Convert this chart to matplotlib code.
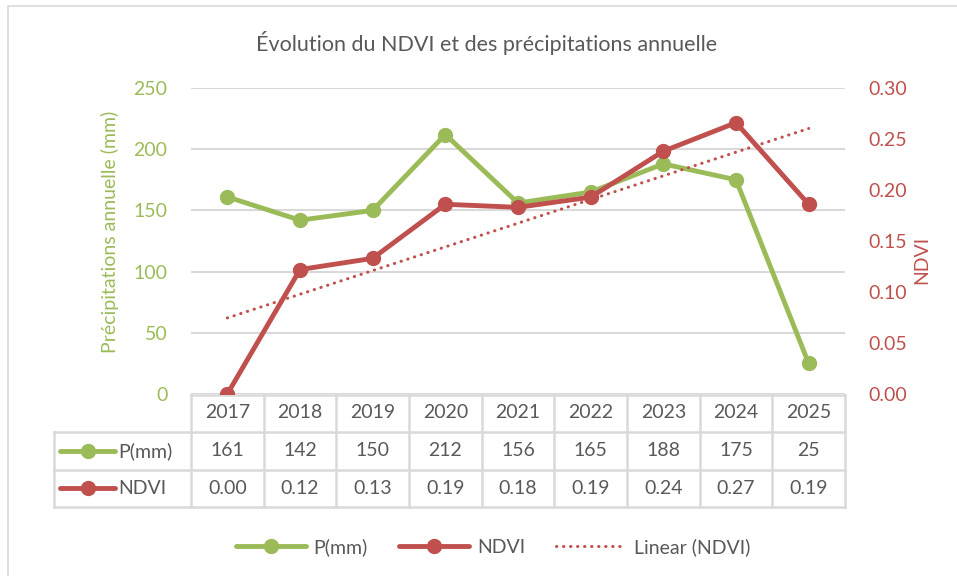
import numpy as np
import matplotlib
matplotlib.use("Agg")
import matplotlib.pyplot as plt
from matplotlib import transforms
from matplotlib.lines import Line2D
from matplotlib.patches import Rectangle

plt.rcParams['font.family'] = ['Lato', 'DejaVu Sans']

years = ['2017', '2018', '2019', '2020', '2021', '2022', '2023', '2024', '2025']
precip = [161, 142, 150, 212, 156, 165, 188, 175, 25]
ndvi = [0.0, 0.122, 0.133, 0.186, 0.183, 0.193, 0.238, 0.266, 0.186]
ndvi_labels = ['0.00', '0.12', '0.13', '0.19', '0.18', '0.19', '0.24', '0.27', '0.19']

GREEN = '#9BBB59'
RED = '#C0504D'
TXT = '#595959'
GRID = '#D9D9D9'
FS = 14
DOTS = (0, (0.1, 2.2))

fig = plt.figure(figsize=(9.57, 5.76), dpi=100)
W, H = 957, 576

# chart border
fig.patches.append(Rectangle((8 / W, -0.1), 1.2, 1 - 6 / H + 0.1, transform=fig.transFigure,
                             fill=False, edgecolor=GRID, lw=1.2))

left, right, top, bottom = 191, 845, 88, 394
ax = fig.add_axes([left / W, 1 - bottom / H, (right - left) / W, (bottom - top) / H])
ax2 = ax.twinx()

x = np.arange(len(years))

# trend line (least squares fit of NDVI)
coef = np.polyfit(x, ndvi, 1)
trend = np.polyval(coef, x)

ax.plot(x, precip, color=GREEN, lw=3.5, marker='o', ms=10, solid_capstyle='round', zorder=3)
ax2.plot(x, ndvi, color=RED, lw=3.5, marker='o', ms=10, solid_capstyle='round', zorder=3)
ax2.plot(x, trend, color=RED, lw=2.2, ls=DOTS, dash_capstyle='round', zorder=2)

ax.set_xlim(-0.5, len(years) - 0.5)
ax.set_ylim(0, 250)
ax.set_yticks(range(0, 251, 50))
ax2.set_ylim(0, 0.30)
ax2.set_yticks(np.arange(0, 0.301, 0.05))
ax2.set_yticklabels(['%.2f' % v for v in np.arange(0, 0.301, 0.05)])

ax.yaxis.grid(True, color=GRID, lw=1.5)
ax.set_axisbelow(True)
for a in (ax, ax2):
    for s in a.spines.values():
        s.set_visible(False)
    a.tick_params(length=0)
ax.set_xticks([])
ax.tick_params(axis='y', colors=GREEN, labelsize=FS, pad=17)
ax2.tick_params(axis='y', colors=RED, labelsize=FS, pad=17)

fig.text(110 / W, 1 - 232 / H, 'Précipitations annuelle (mm)', rotation=90, color=GREEN,
         fontsize=FS, ha='center', va='center')
fig.text(922 / W, 1 - 260 / H, 'NDVI', rotation=90, color=RED, fontsize=FS,
         ha='center', va='center')
fig.text(487 / W, 1 - 43 / H, 'Évolution du NDVI et des précipitations annuelle', color=TXT,
         fontsize=15.5, ha='center', va='center')

# data table under the axis
tr = transforms.blended_transform_factory(ax.transData, ax.transAxes)
def fy(px):
    return (bottom - px) / (bottom - top)

def fx(px):
    return (px - left) / ((right - left) / len(years)) - 0.5

r0, r1, r2, r3 = fy(395), fy(432), fy(470), fy(507)
xl, xr = -0.5, len(years) - 0.5
xlab = fx(54)
lk = dict(color=GRID, lw=1.8, transform=tr, clip_on=False, zorder=1)
ax.plot([xl, xr], [r0, r0], **lk)
for yy in (r1, r2, r3):
    ax.plot([xlab, xr], [yy, yy], **lk)
for b in np.arange(-0.5, len(years)):
    ax.plot([b, b], [r0, r3], **lk)
ax.plot([xlab, xlab], [r1, r3], **lk)

ry = [fy(413), fy(451), fy(488)]
for i in range(len(years)):
    ax.text(i, ry[0], years[i], transform=tr, ha='center', va='center', fontsize=FS, color=TXT)
    ax.text(i, ry[1], str(precip[i]), transform=tr, ha='center', va='center', fontsize=FS, color=TXT)
    ax.text(i, ry[2], ndvi_labels[i], transform=tr, ha='center', va='center', fontsize=FS, color=TXT)

for yy, col, lab in ((ry[1], GREEN, 'P(mm)'), (ry[2], RED, 'NDVI')):
    ax.plot([fx(60), fx(115)], [yy, yy], color=col, lw=3.5, transform=tr, clip_on=False,
            solid_capstyle='round')
    ax.plot([fx(88)], [yy], color=col, marker='o', ms=10, transform=tr, clip_on=False)
    ax.text(fx(118), yy, lab, transform=tr, ha='left', va='center', fontsize=FS, color=TXT)

handles = [
    Line2D([], [], color=GREEN, lw=3.5, marker='o', ms=10, solid_capstyle='round'),
    Line2D([], [], color=RED, lw=3.5, marker='o', ms=10, solid_capstyle='round'),
    Line2D([], [], color=RED, lw=2.2, ls=DOTS, dash_capstyle='round'),
]
leg = fig.legend(handles, ['P(mm)', 'NDVI', 'Linear (NDVI)'], loc='center', ncol=3,
                 bbox_to_anchor=(493 / W, 1 - 547 / H), frameon=False, fontsize=FS,
                 handlelength=3.6, handletextpad=0.4, columnspacing=1.6)
for t in leg.get_texts():
    t.set_color(TXT)

fig.savefig('out.png', dpi=100)
